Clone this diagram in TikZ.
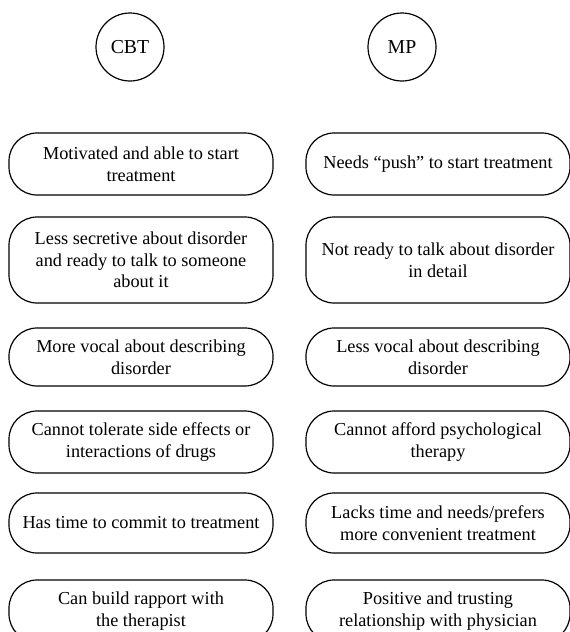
\documentclass[tikz,border=0pt]{standalone}
\usepackage{fontspec}
\setmainfont{Liberation Serif}
\usepackage{tikz}

\begin{document}
\begin{tikzpicture}[
  x=0.75pt, y=-0.75pt,
  every node/.style={font=\fontsize{13.7}{16.25}\selectfont},
  head/.style={circle, draw, line width=0.9pt, minimum size=51pt, inner sep=0pt,
    font=\fontsize{14.8}{17}\selectfont},
  trait/.style={rectangle, draw, rounded corners=21pt, line width=0.9pt,
    minimum width=198pt, align=center, inner sep=0pt},
  ]
\useasboundingbox (0,0) rectangle (570,632);

% Headers
\node[head] (CBT) at (130,47) {CBT};
\node[head] (MP) at (402,47) {MP};

% CBT column
\node[trait, minimum height=46.5pt] (C1) at (141,164) {Motivated and able to start\\treatment};
\node[trait, minimum height=64.5pt] (C2) at (141,260) {Less secretive about disorder\\and ready to talk to someone\\about it};
\node[trait, minimum height=43.5pt] (C3) at (141,357) {More vocal about describing\\disorder};
\node[trait, minimum height=46.5pt] (C4) at (141,442) {Cannot tolerate side effects or\\interactions of drugs};
\node[trait, minimum height=45pt] (C5) at (141,523) {Has time to commit to treatment};
\node[trait, minimum height=46.5pt] (C6) at (141,611) {Can build rapport with\\the therapist};

% MP column
\node[trait, minimum height=46.5pt] (M1) at (438,164) {Needs ``push'' to start treatment};
\node[trait, minimum height=64.5pt] (M2) at (438,260) {Not ready to talk about disorder\\in detail};
\node[trait, minimum height=43.5pt] (M3) at (438,357) {Less vocal about describing\\disorder};
\node[trait, minimum height=46.5pt] (M4) at (438,442) {Cannot afford psychological\\therapy};
\node[trait, minimum height=45pt] (M5) at (438,523) {Lacks time and needs/prefers\\more convenient treatment};
\node[trait, minimum height=46.5pt] (M6) at (438,611) {Positive and trusting\\relationship with physician};

\end{tikzpicture}
\end{document}
